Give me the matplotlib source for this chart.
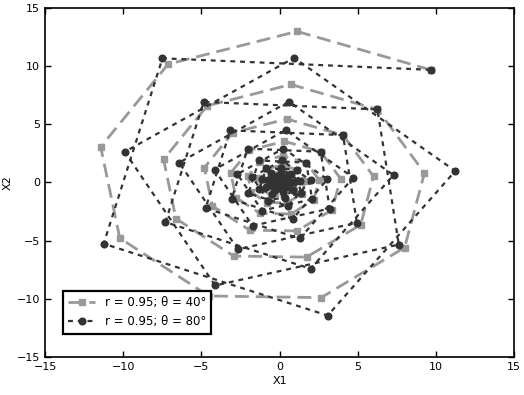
import matplotlib
matplotlib.use("Agg")
import matplotlib.pyplot as plt
import numpy as np

# Values, in hundredths of a unit
# Series 1: r = 0.95, theta = 40 deg
x_a_100 = [966,112,-713,-1144,-1022,-453,266,800,927,626,
           73,-463,-742,-663,-294,173,519,601,406,47,
           -300,-481,-430,-191,112,336,390,263,31,-194,
           -312,-279,-124,73,218,253,171,20,-126,-202,
           -181,-80,47,141,164,111,13,-82,-131,-117,
           -52,31,92,106,72,8,-53,-85,-76,-34,
           20,59,69,47,5,-34,-55,-49,-22,13,
           39,45,30,4,-22,-36,-32,-14,8,25,
           29,20,2,-14,-23,-21,-9,5,16,19]
y_a_100 = [968,1298,1017,305,-478,-975,-989,-559,82,628,
           842,659,198,-310,-632,-641,-363,53,407,546,
           427,128,-201,-410,-416,-235,34,264,354,277,
           83,-130,-266,-270,-152,22,171,229,180,54,
           -84,-172,-175,-99,15,111,149,117,35,-55,
           -112,-113,-64,9,72,96,76,23,-36,-72,
           -74,-42,6,47,63,49,15,-23,-47,-48,
           -27,4,30,41,32,10,-15,-30,-31,-17,
           3,20,26,21,6,-10,-20,-20,-11,2]

# Series 2: r = 0.95, theta = 80 deg
x_b_100 = [966,-749,-1125,308,1124,93,-990,-412,763,626,
           -485,-730,199,729,60,-642,-267,495,406,-315,
           -473,129,472,39,-416,-173,321,263,-204,-307,
           84,306,25,-270,-112,208,171,-132,-199,54,
           199,16,-175,-73,135,111,-86,-129,35,129,
           11,-113,-47,87,72,-56,-84,23,83,7,
           -74,-31,57,47,-36,-54,15,54,4,-48,
           -20,37,30,-23,-35,10,35,3,-31,-13,
           24,20,-15,-23,6,23,2,-20,-8,15]
y_b_100 = [968,1067,-526,-1143,99,1071,264,-885,-533,628,
           692,-341,-741,64,694,171,-574,-346,407,448,
           -221,-481,42,450,111,-372,-224,264,291,-143,
           -312,27,292,72,-241,-145,171,189,-93,-202,
           18,189,47,-156,-94,111,122,-60,-131,11,
           123,30,-101,-61,72,79,-39,-85,7,80,
           20,-66,-40,47,51,-25,-55,5,52,13,
           -43,-26,30,33,-16,-36,3,33,8,-28,
           -17,20,22,-11,-23,2,22,5,-18,-11]

labels = ["r = 0.95; \u03b8 = 40\u00b0", "r = 0.95; \u03b8 = 80\u00b0"]
ticks = [-15, -10, -5, 0, 5, 10, 15]

x_a = np.array(x_a_100) / 100.0
y_a = np.array(y_a_100) / 100.0
x_b = np.array(x_b_100) / 100.0
y_b = np.array(y_b_100) / 100.0

plt.rcParams['font.family'] = ['DejaVu Sans']
fig = plt.figure(figsize=(5.24, 3.95), dpi=100)
ax = fig.add_axes([0.086, 0.096, 0.895, 0.884])

ax.plot(x_a, y_a, color='#999999', linestyle=(0, (5, 2.5)), linewidth=2.0,
        marker='s', markersize=4, markeredgecolor='#999999', label=labels[0])
ax.plot(x_b, y_b, color='#333333', linestyle=(0, (2.2, 2.2)), linewidth=1.6,
        marker='o', markersize=4.8, markeredgecolor='#333333', label=labels[1])

ax.set_xlim(-15, 15)
ax.set_ylim(-15, 15)
ax.set_xticks(ticks)
ax.set_yticks(ticks)
ax.tick_params(direction='in', top=True, right=True, labelsize=8, length=4, width=1)
for s in ax.spines.values():
    s.set_linewidth(1.2)
ax.set_xlabel('X1', fontsize=8, labelpad=3)
ax.set_ylabel('X2', fontsize=8, labelpad=3)

leg = ax.legend(loc='lower left', bbox_to_anchor=(0.025, 0.05), fontsize=8.5,
                fancybox=False, framealpha=1, edgecolor='black',
                handlelength=2.3, borderpad=0.45, labelspacing=0.55)
leg.get_frame().set_linewidth(1.6)

fig.savefig('out.png', dpi=100)
